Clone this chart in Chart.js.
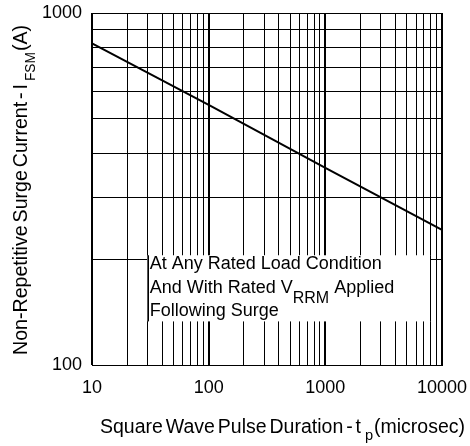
<!DOCTYPE html>
<html>
<head>
<meta charset="utf-8">
<script src="https://cdn.jsdelivr.net/npm/chart.js@4.4.1/dist/chart.umd.min.js"></script>
<style>
  body { margin: 0; background: #fff; }
</style>
</head>
<body>
<canvas id="myChart" width="470" height="446"></canvas>
<script>
// Data (straight line on log-log axes)
const pulseDuration = [10, 100, 1000, 10000];   // microsec
const surgeCurrent = [820, 548, 363, 242];      // A
const xTickLabels = [10, 100, 1000, 10000];
const yTickLabels = [100, 1000];

const FONT = '"Liberation Sans", Arial, sans-serif';

// 1..9 x each decade, used for the log grid
function decadeTicks(min, max) {
    const out = [];
    for (let d = min; d < max; d *= 10) {
        for (let m = 1; m < 10; m++) out.push({ value: m * d });
    }
    out.push({ value: max });
    return out;
}

// draw a row of text pieces (for subscripts), optionally squeezed to a width
function drawRuns(ctx, runs, x, y, width) {
    let total = 0;
    runs.forEach(r => {
        ctx.font = r.font;
        r.w = ctx.measureText(r.text).width;
        total += r.w + (r.gap || 0);
    });
    const sx = width ? width / total : 1;
    ctx.save();
    ctx.translate(x, y);
    ctx.scale(sx, 1);
    let cx = 0;
    runs.forEach(r => {
        ctx.font = r.font;
        ctx.fillText(r.text, cx, r.dy || 0);
        cx += r.w + (r.gap || 0);
    });
    ctx.restore();
}

const titlesPlugin = {
    id: 'titles',
    afterDraw(chart) {
        const ctx = chart.ctx;
        const xs = chart.scales.x, ys = chart.scales.y;
        ctx.save();
        ctx.fillStyle = '#000';
        ctx.textBaseline = 'alphabetic';
        ctx.textAlign = 'left';

        // note box
        const bl = xs.getPixelForValue(30), br = xs.getPixelForValue(8000);
        const bt = ys.getPixelForValue(205), bb = ys.getPixelForValue(133);
        ctx.fillStyle = '#fff';
        ctx.fillRect(bl, bt, br - bl, bb - bt);
        ctx.strokeStyle = '#000';
        ctx.lineWidth = 1;
        ctx.beginPath();
        ctx.moveTo(Math.round(bl) + 0.5, bt); ctx.lineTo(Math.round(bl) + 0.5, bb);
        ctx.moveTo(Math.round(br) - 0.5, bt); ctx.lineTo(Math.round(br) - 0.5, bb);
        ctx.stroke();
        ctx.fillStyle = '#000';
        const f18 = '18px ' + FONT, f16 = '16px ' + FONT;
        drawRuns(ctx, [{ text: 'At Any Rated Load Condition', font: f18 }], bl + 2, bt + 14);
        drawRuns(ctx, [
            { text: 'And With Rated V', font: f18 },
            { text: 'RRM', font: f16, dy: 10 },
            { text: ' Applied', font: f18 }
        ], bl + 2, bt + 38);
        drawRuns(ctx, [{ text: 'Following Surge', font: f18 }], bl + 2, bt + 61);

        // x axis title
        const f20 = '20px ' + FONT, f15 = '15px ' + FONT;
        drawRuns(ctx, [
            { text: 'Square', font: f20, gap: 3 },
            { text: 'Wave', font: f20, gap: 3 },
            { text: 'Pulse', font: f20, gap: 3 },
            { text: 'Duration', font: f20, gap: 3 },
            { text: '-', font: f20, gap: 3 },
            { text: 't', font: f20, gap: 4 },
            { text: 'p', font: f15, dy: 7, gap: 1 },
            { text: '(microsec)', font: f20 }
        ], 100, 433, 365);

        // y axis title (rotated)
        const fy = '20px ' + FONT, f13 = '14px ' + FONT;
        ctx.save();
        ctx.translate(27, 355);
        ctx.rotate(-Math.PI / 2);
        drawRuns(ctx, [
            { text: 'Non-Repetitive', font: fy, gap: 3 },
            { text: 'Surge', font: fy, gap: 3 },
            { text: 'Current', font: fy, gap: 3 },
            { text: '-', font: fy, gap: 3 },
            { text: 'I', font: fy, gap: 3 },
            { text: 'FSM', font: f13, dy: 8, gap: 1 },
            { text: '(A)', font: fy }
        ], 0, 0, 330);
        ctx.restore();

        ctx.restore();
    }
};

const gridWidth = (c) => {
    const v = c.tick ? c.tick.value : 0;
    const e = Math.log10(v);
    return Math.abs(e - Math.round(e)) < 1e-9 ? 2 : 1;
};

const config = {
    type: 'line',
    data: {
        datasets: [{
            data: pulseDuration.map((t, i) => ({ x: t, y: surgeCurrent[i] })),
            borderColor: '#000',
            borderWidth: 2,
            pointRadius: 0,
            tension: 0,
            fill: false
        }]
    },
    options: {
        responsive: false,
        animation: false,
        layout: { padding: { left: 0, right: 28, top: 13, bottom: 0 } },
        plugins: {
            legend: { display: false },
            tooltip: { enabled: false }
        },
        scales: {
            x: {
                type: 'logarithmic',
                min: 10,
                max: 10000,
                grid: { color: '#000', lineWidth: gridWidth, drawTicks: false },
                border: { display: true, color: '#000', width: 1 },
                ticks: {
                    autoSkip: false,
                    maxRotation: 0,
                    padding: 12,
                    color: '#000',
                    font: { family: FONT, size: 18 },
                    callback: (v) => xTickLabels.includes(Math.round(v)) ? String(Math.round(v)) : ''
                },
                afterBuildTicks: (s) => { s.ticks = decadeTicks(10, 10000); },
                afterFit: (s) => { s.height = 81; s.paddingLeft = 0; s.paddingRight = 0; }
            },
            y: {
                type: 'logarithmic',
                min: 100,
                max: 1000,
                grid: { color: '#000', lineWidth: 1, drawTicks: false },
                border: { display: true, color: '#000', width: 1 },
                ticks: {
                    autoSkip: false,
                    padding: 10,
                    color: '#000',
                    font: { family: FONT, size: 18 },
                    callback: (v) => yTickLabels.includes(Math.round(v)) ? String(Math.round(v)) : ''
                },
                afterBuildTicks: (s) => { s.ticks = decadeTicks(100, 1000); },
                afterFit: (s) => { s.width = 92; s.paddingTop = 0; s.paddingBottom = 0; }
            }
        }
    },
    plugins: [titlesPlugin]
};

const myChart = new Chart(document.getElementById('myChart'), config);
</script>
</body>
</html>
